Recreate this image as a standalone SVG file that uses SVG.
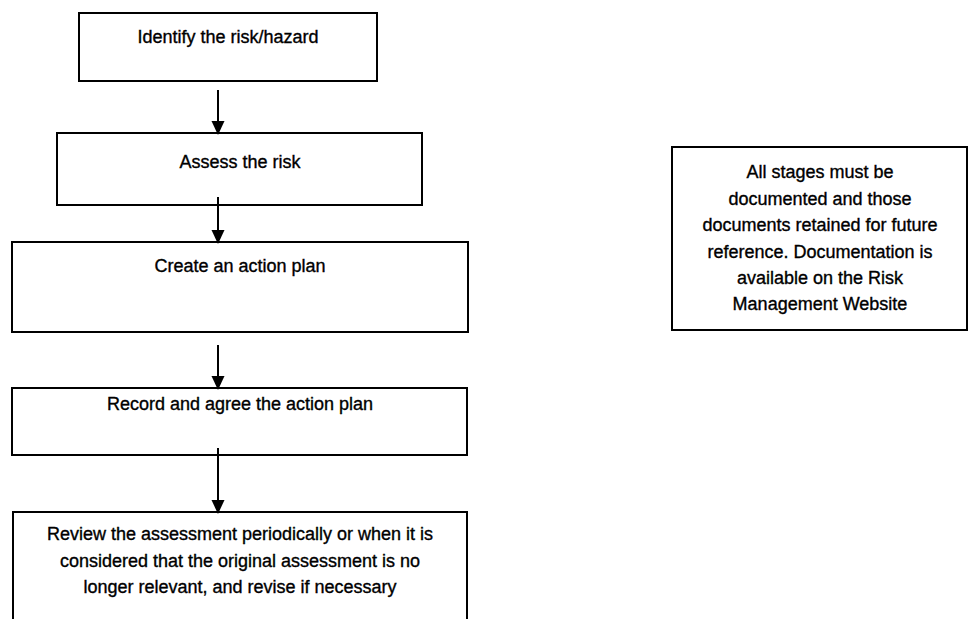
<svg xmlns="http://www.w3.org/2000/svg" width="969" height="619" viewBox="0 0 969 619">
<defs>
<style>
.box{fill:#fff;stroke:#000;stroke-width:2}
.t{font-family:"Liberation Sans",Arial,sans-serif;font-size:18px;fill:#000;stroke:#000;stroke-width:0.35;text-anchor:middle}
.c{stroke:#000;stroke-width:2;fill:none}
</style>
<marker id="ah" markerWidth="14" markerHeight="14" refX="13" refY="7" orient="auto" markerUnits="userSpaceOnUse">
<path d="M0,0.5 L14,7 L0,13.5 Z" fill="#000"/>
</marker>
</defs>
<rect width="969" height="619" fill="#fff"/>
<g id="n1"><rect class="box" x="79" y="13" width="298" height="68"/><text class="t" x="228" y="43">Identify the risk/hazard</text></g>
<g id="n2"><rect class="box" x="57" y="133" width="365" height="72"/><text class="t" x="240" y="168">Assess the risk</text></g>
<g id="n3"><rect class="box" x="12" y="242" width="456" height="90"/><text class="t" x="240" y="272">Create an action plan</text></g>
<g id="n4"><rect class="box" x="12" y="388" width="455" height="67"/><text class="t" x="240" y="410">Record and agree the action plan</text></g>
<g id="n5"><rect class="box" x="13" y="512" width="454" height="150"/><text class="t" x="240" y="540">Review the assessment periodically or when it is</text><text class="t" x="240" y="567">considered that the original assessment is no</text><text class="t" x="240" y="593">longer relevant, and revise if necessary</text></g>
<g id="note"><rect class="box" x="672" y="147" width="295" height="183"/>
<text class="t" x="820" y="178">All stages must be</text>
<text class="t" x="820" y="205">documented and those</text>
<text class="t" x="820" y="231">documents retained for future</text>
<text class="t" x="820" y="258">reference. Documentation is</text>
<text class="t" x="820" y="284">available on the Risk</text>
<text class="t" x="820" y="310">Management Website</text></g>
<g id="connectors">
<line class="c" x1="218" y1="90" x2="218" y2="134" marker-end="url(#ah)"/>
<line class="c" x1="218" y1="197" x2="218" y2="243" marker-end="url(#ah)"/>
<line class="c" x1="218" y1="345" x2="218" y2="389" marker-end="url(#ah)"/>
<line class="c" x1="218" y1="448" x2="218" y2="513" marker-end="url(#ah)"/>
</g>
</svg>
